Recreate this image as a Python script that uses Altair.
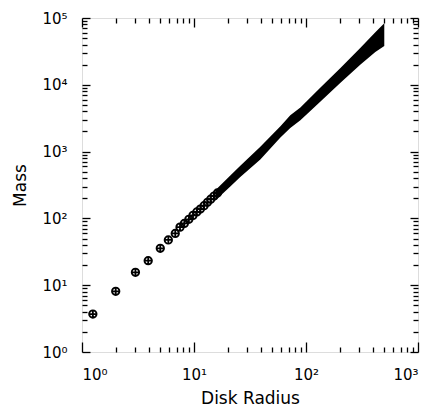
import altair as alt
import pandas as pd

# Discrete cluster points (radius, mass)
pt_radius = [1.25, 2.0, 3.0, 3.9, 5.0, 5.9, 6.8, 7.5, 8.2, 9.0, 9.8, 10.6, 11.4, 12.3, 13.2, 14.1, 15.1, 16.2]
pt_mass = [3.7, 8.1, 15.6, 23.3, 35.7, 47.6, 59.6, 74, 84, 97, 111, 125, 138, 155, 174, 194, 216, 240]

# Dense band (overlapping markers) lower / upper envelope
band_radius = [15.5, 21.1, 25.9, 39.1, 59.1, 72.4, 89.1, 134, 202, 305, 416, 500]
band_low = [185, 300, 415, 760, 1620, 2258, 2940, 5595, 10650, 19930, 31100, 38100]
band_high = [265, 440, 615, 1180, 2400, 3515, 4575, 9020, 17750, 35560, 61400, 83500]

x_major = [1, 10, 100, 1000]
y_major = [1, 10, 100, 1000, 10000, 100000]
x_minor = [m * 10 ** k for k in range(0, 3) for m in range(2, 10)]
y_minor = [m * 10 ** k for k in range(0, 5) for m in range(2, 10)]

pts = pd.DataFrame({"r": pt_radius, "m": pt_mass})
band = pd.DataFrame({"r": band_radius, "lo": band_low, "hi": band_high})

FONT = "DejaVu Sans"
xs = alt.Scale(type="log", domain=[1, 1000], nice=False)
ys = alt.Scale(type="log", domain=[1, 100000], nice=False)
sup = "'10' + ['\u2070','\u00b9','\u00b2','\u00b3','\u2074','\u2075'][round(log(datum.value)/LN10)]"

def ax(orient, values, size, labels=False, title=None, **kw):
    d = dict(orient=orient, values=values, tickSize=size, offset=-size, domain=False,
             grid=False, ticks=True, tickColor="black", tickWidth=1.3, labels=labels)
    if labels:
        d.update(labelExpr=sup, labelFont=FONT, labelFontSize=15, labelColor="black")
    if title:
        d.update(title=title, titleFont=FONT, titleFontSize=17, titleFontWeight="normal",
                 titleColor="black")
    else:
        d.update(title=None)
    d.update(kw)
    return alt.Axis(**d)

circ = "M-1,0A1,1 0 1,1 1,0A1,1 0 1,1 -1,0M-1,0L1,0M0,-1L0,1"

points = alt.Chart(pts).mark_point(shape=circ, size=56, filled=False, stroke="black",
                                   strokeWidth=1.8, opacity=1).encode(
    x=alt.X("r:Q", scale=xs, axis=ax("bottom", x_major, 10, labels=True, title="Disk Radius",
                                      labelPadding=15, titlePadding=8)),
    y=alt.Y("m:Q", scale=ys, axis=ax("left", y_major, 8, labels=True, title="Mass",
                                      labelPadding=15, titlePadding=12)),
)

area = alt.Chart(band).mark_area(color="black", opacity=1).encode(
    x=alt.X("r:Q", scale=xs, axis=ax("bottom", x_minor, 5)),
    y=alt.Y("lo:Q", scale=ys, axis=ax("left", y_minor, 5)),
    y2="hi:Q",
)

top_major = alt.Chart(pts).mark_point(opacity=0).encode(
    x=alt.X("r:Q", scale=xs, axis=ax("top", x_major, 9)),
    y=alt.Y("m:Q", scale=ys, axis=ax("right", y_major, 8)),
)
top_minor = alt.Chart(pts).mark_point(opacity=0).encode(
    x=alt.X("r:Q", scale=xs, axis=ax("top", x_minor, 5)),
    y=alt.Y("m:Q", scale=ys, axis=ax("right", y_minor, 5)),
)

chart = alt.layer(points, area, top_major, top_minor).resolve_axis(
    x="independent", y="independent"
).properties(
    width=336, height=334,
    autosize=alt.AutoSizeParams(type="none"),
    padding={"left": 74, "top": 10, "right": 10, "bottom": 56},
).configure_view(stroke="black", strokeWidth=1.8).configure(background="white")

chart.save("out.html", embed_options={"renderer": "svg", "actions": False})
